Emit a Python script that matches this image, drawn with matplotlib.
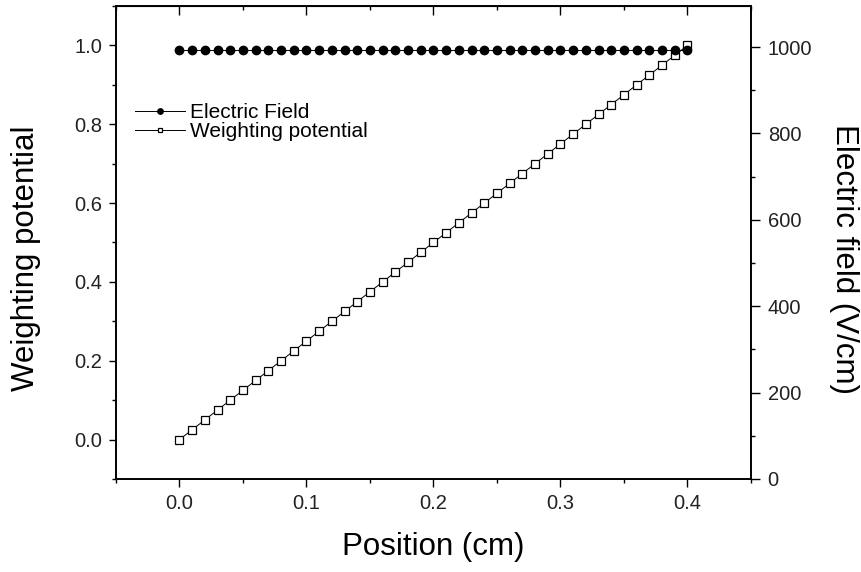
import matplotlib
matplotlib.use("Agg")
import matplotlib.pyplot as plt
from matplotlib.ticker import MultipleLocator

plt.rcParams["font.family"] = ["Liberation Sans", "DejaVu Sans"]

# position (cm), 0.01 steps
position = [0.00, 0.01, 0.02, 0.03, 0.04, 0.05, 0.06, 0.07, 0.08, 0.09,
            0.10, 0.11, 0.12, 0.13, 0.14, 0.15, 0.16, 0.17, 0.18, 0.19,
            0.20, 0.21, 0.22, 0.23, 0.24, 0.25, 0.26, 0.27, 0.28, 0.29,
            0.30, 0.31, 0.32, 0.33, 0.34, 0.35, 0.36, 0.37, 0.38, 0.39, 0.40]
weighting = [0.000, 0.025, 0.050, 0.075, 0.100, 0.125, 0.150, 0.175, 0.200, 0.225,
             0.250, 0.275, 0.300, 0.325, 0.350, 0.375, 0.400, 0.425, 0.450, 0.475,
             0.500, 0.525, 0.550, 0.575, 0.600, 0.625, 0.650, 0.675, 0.700, 0.725,
             0.750, 0.775, 0.800, 0.825, 0.850, 0.875, 0.900, 0.925, 0.950, 0.975, 1.000]
efield = [993] * 41

fig = plt.figure(figsize=(8.61, 5.72), dpi=100)
ax = fig.add_axes([0.1347, 0.1626, 0.7375, 0.8269])
ax2 = ax.twinx()

lw, = ax.plot(position, weighting, "-", color="black", lw=0.7, marker="s", ms=5.5,
              mfc="white", mec="black", mew=0.9, label="Weighting potential")
le, = ax2.plot(position, efield, "-", color="black", lw=0.7, marker="o", ms=6,
               mfc="black", mec="black", label="Electric Field")

ax.set_xlim(-0.05, 0.45)
ax.set_ylim(-0.1, 1.1)
ax2.set_ylim(0, 1095)
ax.xaxis.set_major_locator(MultipleLocator(0.1))
ax.xaxis.set_minor_locator(MultipleLocator(0.05))
ax.yaxis.set_major_locator(MultipleLocator(0.2))
ax.yaxis.set_minor_locator(MultipleLocator(0.1))
ax2.yaxis.set_major_locator(MultipleLocator(200))
ax2.yaxis.set_minor_locator(MultipleLocator(100))

for a in (ax, ax2):
    a.tick_params(which="major", direction="out", width=1, labelsize=14.5, labelcolor="#222222")
    a.tick_params(which="minor", direction="out", length=2.6, width=1)
    for sp in a.spines.values():
        sp.set_linewidth(1.2)
ax.tick_params(axis="x", which="major", length=6, pad=5)
ax.tick_params(axis="y", which="major", length=5, pad=5)
ax2.tick_params(axis="y", which="major", length=6.5, pad=5.5)

top = ax.secondary_xaxis("top")
top.xaxis.set_major_locator(MultipleLocator(0.1))
top.xaxis.set_minor_locator(MultipleLocator(0.05))
top.tick_params(which="major", direction="in", length=6.5, width=1, labeltop=False)
top.tick_params(which="minor", direction="in", length=3, width=1)

ax.set_xlabel("Position (cm)", fontsize=22.5, ha="center", va="center")
ax.xaxis.set_label_coords(0.5, -0.1438)
ax.set_ylabel("Weighting potential", fontsize=22.5, ha="center", va="center")
ax.yaxis.set_label_coords(-0.142, 0.467)
ax2.set_ylabel("Electric field (V/cm)", fontsize=22.5, rotation=270, ha="center", va="center")
ax2.yaxis.set_label_coords(1.1465, 0.465)

ax2.legend(handles=[le, lw], loc="upper left", bbox_to_anchor=(0.0, 0.835),
           frameon=False, fontsize=15, handlelength=2.4, handletextpad=0.25,
           labelspacing=0.02, markerscale=0.65)

fig.savefig("out.png", dpi=100)
